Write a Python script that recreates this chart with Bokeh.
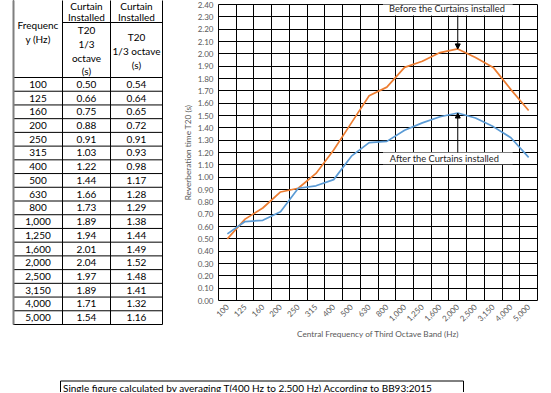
from bokeh.plotting import figure
from bokeh.models import (Range1d, FixedTicker, BoxAnnotation, Label, Arrow,
                          NormalHead, NumeralTickFormatter)
from bokeh.layouts import column, row
from bokeh.embed import file_html
from bokeh.resources import INLINE
from bokeh.core.properties import value

# ---------------- data ----------------
freq_labels = ["100", "125", "160", "200", "250", "315", "400", "500", "630",
               "800", "1,000", "1,250", "1,600", "2,000", "2,500", "3,150",
               "4,000", "5,000"]
t20_before = [0.50, 0.66, 0.75, 0.88, 0.91, 1.03, 1.22, 1.44, 1.66, 1.73,
              1.89, 1.94, 2.01, 2.04, 1.97, 1.89, 1.71, 1.54]
t20_after = [0.54, 0.64, 0.65, 0.72, 0.91, 0.93, 0.98, 1.17, 1.28, 1.29,
             1.38, 1.44, 1.49, 1.52, 1.48, 1.41, 1.32, 1.16]
y_ticks = [0.0, 0.1, 0.2, 0.3, 0.4, 0.5, 0.6, 0.7, 0.8, 0.9, 1.0, 1.1, 1.2,
           1.3, 1.4, 1.5, 1.6, 1.7, 1.8, 1.9, 2.0, 2.1, 2.2, 2.3, 2.4]

FONT = "Lato"
ORANGE = "#ED7D31"
BLUE = "#5B9BD5"
GREY = "#595959"

n = len(freq_labels)
idx = list(range(n))
peak = freq_labels.index("2,000")

TOP_H = 368
TOTAL_W = 550

# ---------------- table (left) ----------------
TAB_W = 170
tab = figure(width=TAB_W, height=TOP_H, x_range=Range1d(0, TAB_W),
             y_range=Range1d(TOP_H, 0), x_axis_type=None, y_axis_type=None,
             toolbar_location=None, output_backend="svg", min_border=0)
tab.grid.visible = False
tab.outline_line_color = None

col_edges = [13, 62, 110, 162]
col_mid = [(col_edges[i] + col_edges[i + 1]) / 2 for i in range(3)]
head_bot = 77.0
row_h = (324.0 - head_bot) / n

hy = [head_bot + i * row_h for i in range(n + 1)]
tab.segment(x0=[col_edges[0]] * len(hy), x1=[col_edges[-1]] * len(hy),
            y0=hy, y1=hy, line_color="black", line_width=1)
tab.segment(x0=[col_edges[1]], x1=[col_edges[-1]], y0=[22], y1=[22],
            line_color="black", line_width=1)
tab.segment(x0=col_edges, x1=col_edges, y0=[-40] * 4, y1=[hy[-1]] * 4,
            line_color="black", line_width=1)
tab.segment(x0=[col_edges[0]], x1=[col_edges[0]], y0=[-40], y1=[hy[-1]],
            line_color="#7f7f7f", line_width=2)

rc = [head_bot + (i + 0.5) * row_h for i in range(n)]
tkw = dict(text_align="center", text_baseline="middle",
           text_font=value(FONT), text_font_size="10px", text_color="black")
tab.text(x=[col_mid[0]] * n, y=rc, text=freq_labels, **tkw)
tab.text(x=[col_mid[1]] * n, y=rc, text=["%.2f" % v for v in t20_before], **tkw)
tab.text(x=[col_mid[2]] * n, y=rc, text=["%.2f" % v for v in t20_after], **tkw)

tab.text(x=[col_mid[0]] * 2, y=[24, 38], text=["Frequenc", "y (Hz)"], **tkw)
tab.text(x=[col_mid[1], col_mid[2]] * 2, y=[5.5, 5.5, 16.5, 16.5],
         text=["Curtain", "Curtain", "Installed", "Installed"], **tkw)
tab.text(x=[col_mid[1]] * 4, y=[29, 43, 57, 70.5],
         text=["T20", "1/3", "octave", "(s)"], **tkw)
tab.text(x=[col_mid[2]] * 3, y=[36, 50, 64],
         text=["T20", "1/3 octave", "(s)"], **tkw)

# ---------------- chart (right) ----------------
CH_W = TOTAL_W - TAB_W
ch = figure(width=CH_W, height=TOP_H,
            x_range=Range1d(-0.5, n - 0.5), y_range=Range1d(0, 2.4),
            min_border_left=48, min_border_right=CH_W - 48 - 319,
            min_border_top=4, min_border_bottom=TOP_H - 300,
            toolbar_location=None, output_backend="svg")
ch.outline_line_color = "black"
ch.outline_line_width = 1

ch.xaxis.ticker = FixedTicker(ticks=idx)
ch.xaxis.major_label_overrides = {i: lab for i, lab in enumerate(freq_labels)}
ch.xaxis.major_label_orientation = 0.785
ch.yaxis.ticker = FixedTicker(ticks=y_ticks)
ch.yaxis.formatter = NumeralTickFormatter(format="0.00")
for ax in (ch.xaxis[0], ch.yaxis[0]):
    ax.axis_line_color = None
    ax.major_tick_line_color = None
    ax.minor_tick_line_color = None
    ax.major_tick_out = 0
    ax.major_tick_in = 0
    ax.minor_tick_out = 0
    ax.major_label_text_font = FONT
    ax.major_label_text_font_size = "8px"
    ax.major_label_text_color = GREY
    ax.axis_label_text_font = FONT
    ax.axis_label_text_font_size = "8.25px"
    ax.axis_label_text_font_style = "normal"
    ax.axis_label_text_color = GREY
ch.yaxis.major_label_standoff = 5
ch.xaxis.major_label_standoff = 5
ch.yaxis.axis_label = "Reverberation time T20 (s)"
ch.xaxis.axis_label = "Central Frequency of Third Octave Band (Hz)"
ch.yaxis.axis_label_standoff = 2
ch.xaxis.axis_label_standoff = 2

ch.xgrid.ticker = FixedTicker(ticks=[i - 0.5 for i in range(n + 1)])
for g in (ch.xgrid[0], ch.ygrid[0]):
    g.grid_line_color = "black"
    g.grid_line_width = 1
    g.grid_line_alpha = 1

ch.line(x=idx, y=t20_before, line_color=ORANGE, line_width=1.7)
ch.line(x=idx, y=t20_after, line_color=BLUE, line_width=1.7)

ch.add_layout(BoxAnnotation(left=8.78, right=16.1, bottom=2.31, top=2.6,
                            fill_color="white", fill_alpha=1, line_color=None))
ch.add_layout(BoxAnnotation(left=8.78, right=16.1, bottom=1.105, top=1.2,
                            fill_color="white", fill_alpha=1, line_color=None))
ch.add_layout(Label(x=12.39, y=2.37, text="Before the Curtains installed",
                    text_align="center", text_baseline="middle",
                    text_font=FONT, text_font_size="9.3px",
                    text_color="#262626"))
ch.add_layout(Label(x=12.25, y=1.152, text="After the Curtains installed",
                    text_align="center", text_baseline="middle",
                    text_font=FONT, text_font_size="9.3px",
                    text_color="#262626"))
ch.add_layout(Arrow(end=NormalHead(size=5, fill_color="black",
                                   line_color="black"),
                    x_start=peak, y_start=2.31, x_end=peak,
                    y_end=t20_before[peak], line_color="black", line_width=1))
ch.add_layout(Arrow(end=NormalHead(size=5, fill_color="black",
                                   line_color="black"),
                    x_start=peak, y_start=1.2, x_end=peak,
                    y_end=t20_after[peak], line_color="black", line_width=1))

# ---------------- bottom note ----------------
BOT_H = 24
bot = figure(width=TOTAL_W, height=BOT_H, x_range=Range1d(0, TOTAL_W),
             y_range=Range1d(TOP_H + BOT_H, TOP_H), x_axis_type=None,
             y_axis_type=None, toolbar_location=None, output_backend="svg",
             min_border=0)
bot.grid.visible = False
bot.outline_line_color = None
bot.segment(x0=[60, 60, 463], x1=[463, 60, 463], y0=[380.5, 380.5, 380.5],
            y1=[380.5, 400, 400], line_color="black", line_width=1)
bot.text(x=[62.5], y=[387],
         text=["Single figure calculated by averaging T(400 Hz to 2,500 Hz) According to BB93:2015"],
         text_align="left", text_baseline="middle", text_font=value(FONT),
         text_font_size="10px", text_color="black")

layout = column(row(column(tab), ch, spacing=0), bot, spacing=0)
open("out.html", "w").write(file_html(layout, INLINE))
